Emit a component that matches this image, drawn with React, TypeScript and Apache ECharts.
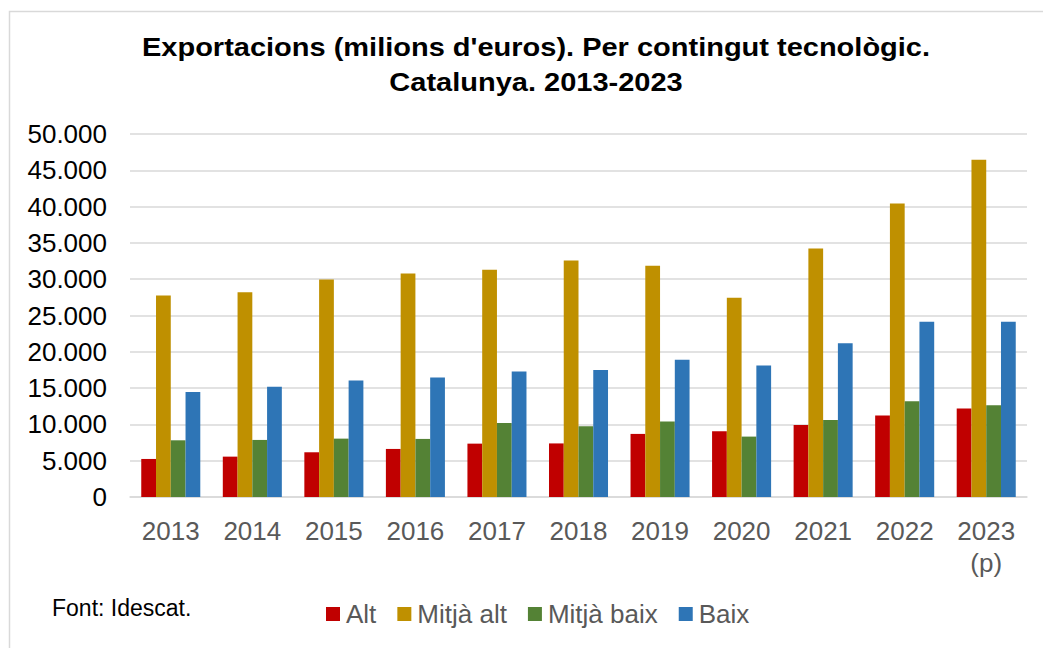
import React, { useEffect, useRef } from "react";
import * as echarts from "echarts";

const categories = ["2013", "2014", "2015", "2016", "2017", "2018", "2019", "2020", "2021", "2022", "2023\n(p)"];
const seriesNames = ["Alt", "Mitjà alt", "Mitjà baix", "Baix"];
const alt = [5240, 5560, 6160, 6620, 7350, 7380, 8690, 9050, 9930, 11210, 12180];
const mitjaAlt = [27760, 28200, 29960, 30790, 31300, 32580, 31850, 27440, 34240, 40440, 46460];
const mitjaBaix = [7810, 7860, 8040, 8000, 10200, 9740, 10390, 8320, 10620, 13190, 12640];
const baix = [14480, 15170, 16040, 16450, 17280, 17510, 18890, 18110, 21190, 24130, 24130];
const colors = ["#C00000", "#BF9000", "#548235", "#2E75B6"];
const yTicks = { min: 0, max: 50000, interval: 5000 };
const titleLines = ["Exportacions (milions d'euros). Per contingut tecnològic.", "Catalunya. 2013-2023"];
const sourceText = "Font: Idescat.";

const FONT = "'Liberation Sans', Arial, sans-serif";

function fmt(v: number): string {
  return String(Math.round(v)).replace(/\B(?=(\d{3})+(?!\d))/g, ".");
}

export default function App() {
  const ref = useRef<HTMLDivElement>(null);
  useEffect(() => {
    if (!ref.current) return;
    const chart = echarts.init(ref.current, undefined, { renderer: "svg" });
    const data = [alt, mitjaAlt, mitjaBaix, baix];
    chart.setOption({
      animation: false,
      backgroundColor: "#ffffff",
      textStyle: { fontFamily: FONT },
      legend: {
        data: seriesNames,
        left: 326,
        top: 601,
        padding: 0,
        itemWidth: 14,
        itemHeight: 14,
        itemGap: 21,
        icon: "rect",
        textStyle: { fontFamily: FONT, fontSize: 26, color: "#595959", padding: [0, 0, 0, 1] },
      },
      grid: { left: 130, right: 16, top: 134, bottom: 151, containLabel: false },
      xAxis: {
        type: "category",
        data: categories,
        axisLine: { show: true, lineStyle: { color: "#d9d9d9", width: 1.5 } },
        axisTick: { show: false },
        axisLabel: { fontFamily: FONT, fontSize: 26, color: "#595959", margin: 18, lineHeight: 32 },
      },
      yAxis: {
        type: "value",
        min: yTicks.min,
        max: yTicks.max,
        interval: yTicks.interval,
        axisLine: { show: false },
        axisTick: { show: false },
        splitLine: { lineStyle: { color: "#d9d9d9", width: 1.5 } },
        axisLabel: { fontFamily: FONT, fontSize: 26, color: "#000000", margin: 23, formatter: (v: number) => fmt(v) },
      },
      graphic: [
        {
          type: "rect",
          shape: { x: 9.5, y: 11.5, width: 1100, height: 700 },
          style: { fill: "none", stroke: "#d9d9d9", lineWidth: 1.5 },
          silent: true,
        },
        {
          type: "text",
          x: 536,
          y: 30,
          scaleX: 1.16,
          style: {
            text: titleLines.join("\n"),
            fontFamily: FONT,
            fontSize: 25,
            fontWeight: "bold",
            fill: "#000000",
            lineHeight: 35,
            align: "center",
            verticalAlign: "top",
          },
        },
        {
          type: "text",
          x: 52,
          y: 608,
          style: { text: sourceText, fontFamily: FONT, fontSize: 23, fill: "#000000", verticalAlign: "middle" },
        },
      ],
      series: seriesNames.map((name, i) => ({
        name,
        type: "bar",
        data: data[i],
        itemStyle: { color: colors[i] },
        barGap: "0%",
        barCategoryGap: "27.6%",
      })),
    });
    return () => chart.dispose();
  }, []);
  return <div ref={ref} style={{ position: "fixed", left: 0, top: 0, width: 1043, height: 648 }} />;
}
